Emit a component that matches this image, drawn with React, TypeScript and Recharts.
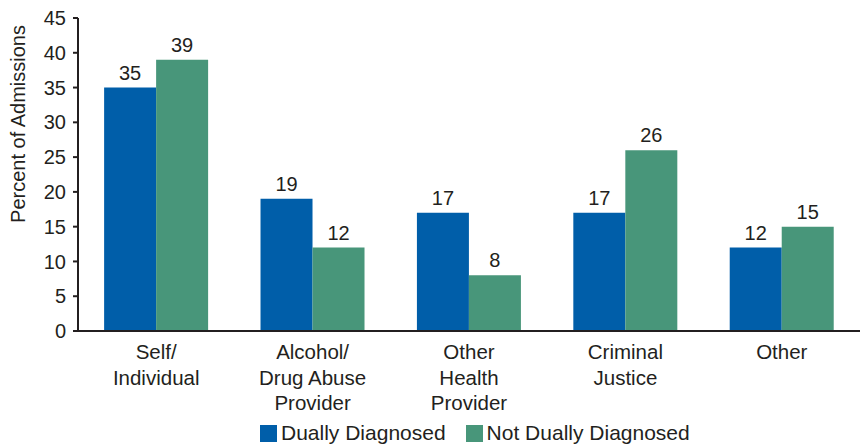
import { BarChart, Bar, XAxis, YAxis, LabelList } from "recharts";

const categories = [
  "Self/\nIndividual",
  "Alcohol/\nDrug Abuse\nProvider",
  "Other\nHealth\nProvider",
  "Criminal\nJustice",
  "Other",
];
const duallyDiagnosed = [35, 19, 17, 17, 12];
const notDuallyDiagnosed = [39, 12, 8, 26, 15];
const yTicks = [0, 5, 10, 15, 20, 25, 30, 35, 40, 45];

const BLUE = "#005EA9";
const GREEN = "#48967A";
const INK = "#231F20";
const FONT = "'Liberation Sans', Arial, sans-serif";

const data = categories.map((name, i) => ({
  name,
  dually: duallyDiagnosed[i],
  notDually: notDuallyDiagnosed[i],
}));

function CategoryTick(props: any) {
  const { x, y, payload } = props;
  const lines = String(payload.value).split("\n");
  return (
    <text x={x} y={y} textAnchor="middle" fill={INK} fontSize={20.5} fontFamily={FONT}>
      {lines.map((line, i) => (
        <tspan key={i} x={x} dy={i === 0 ? 20 : 25.5}>
          {line}
        </tspan>
      ))}
    </text>
  );
}

function YLabel() {
  return (
    <text
      x={25}
      y={124}
      transform="rotate(-90 25 124)"
      textAnchor="middle"
      fill={INK}
      fontSize={20}
      fontFamily={FONT}
    >
      Percent of Admissions
    </text>
  );
}

function LegendRow() {
  const items = [
    { label: "Dually Diagnosed", color: BLUE },
    { label: "Not Dually Diagnosed", color: GREEN },
  ];
  return (
    <div
      style={{
        position: "absolute",
        top: 421,
        left: 260,
        display: "flex",
        alignItems: "center",
        fontFamily: FONT,
        fontSize: 21,
        color: INK,
      }}
    >
      {items.map((it, i) => (
        <div key={it.label} style={{ display: "flex", alignItems: "center", marginRight: i === 0 ? 20 : 0 }}>
          <div style={{ width: 17, height: 17, background: it.color, marginRight: 4 }} />
          <span>{it.label}</span>
        </div>
      ))}
    </div>
  );
}

export default function App() {
  return (
    <div style={{ position: "absolute", top: 0, left: 0, width: 868, height: 448, background: "#fff" }}>
      <BarChart
        width={868}
        height={448}
        data={data}
        margin={{ top: 18, right: 8, left: 0, bottom: 37 }}
        barCategoryGap="16.7%"
        barGap={0}
      >
        <XAxis
          dataKey="name"
          interval={0}
          tickLine={false}
          axisLine={{ stroke: INK, strokeWidth: 2 }}
          tick={<CategoryTick />}
          height={80}
        />
        <YAxis
          domain={[0, 45]}
          ticks={yTicks}
          width={78}
          interval={0}
          tickSize={5}
          tickMargin={7}
          axisLine={{ stroke: INK, strokeWidth: 2 }}
          tickLine={{ stroke: INK, strokeWidth: 2 }}
          tick={{ fill: INK, fontSize: 20, fontFamily: FONT }}
          label={<YLabel />}
        />
        <Bar dataKey="dually" fill={BLUE} isAnimationActive={false}>
          <LabelList dataKey="dually" position="top" offset={8} fill={INK} fontSize={20} fontFamily={FONT} />
        </Bar>
        <Bar dataKey="notDually" fill={GREEN} isAnimationActive={false}>
          <LabelList dataKey="notDually" position="top" offset={8} fill={INK} fontSize={20} fontFamily={FONT} />
        </Bar>
      </BarChart>
      <LegendRow />
    </div>
  );
}
